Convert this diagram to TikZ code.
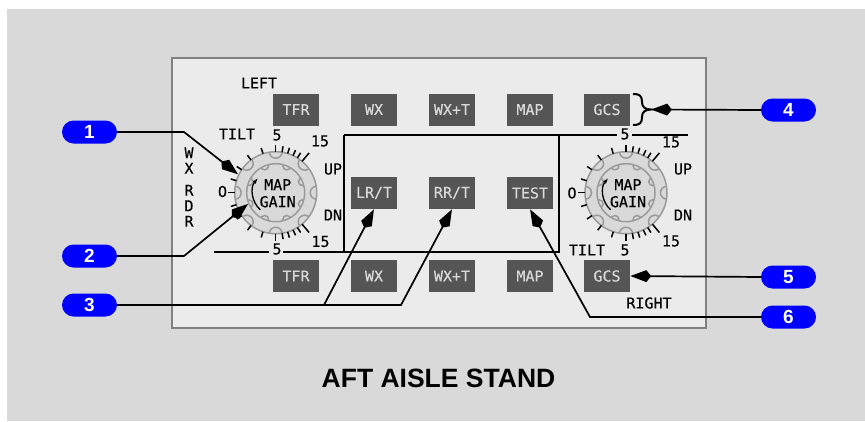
\documentclass[tikz,border=0pt]{standalone}
\usepackage{fontspec}
\setmainfont{Liberation Sans}
\setmonofont[FakeBold=0.25]{DejaVu Sans Mono}
\usepackage{xcolor}
\usetikzlibrary{arrows.meta,calc}

\definecolor{standgray}{HTML}{D9D9D9}
\definecolor{panelgray}{HTML}{EBEBEB}
\definecolor{edgegray}{HTML}{808080}
\definecolor{ringgray}{HTML}{9A9A9A}
\definecolor{btngray}{HTML}{555555}
\definecolor{callblue}{HTML}{0000FF}

% one knob: #1 = name, #2 = centre
\newcommand{\drawknob}[2]{
    \node [knobdisc, minimum size=82pt] (#1) at (#2) {};
    \node [knobdisc, minimum size=58pt] (#1inner) at (#2) {};
    \begin{scope}
        \clip (#2) circle [radius=41pt];
        \foreach \a in {0,45,...,315}
            \draw [ringline] (#2) ++(\a:41pt) circle [radius=6.5pt];
    \end{scope}
    \begin{scope}
        \clip (#2) circle [radius=29pt];
        \foreach \a in {22.5,67.5,...,360}
            \draw [ringline] (#2) ++(\a:29pt) circle [radius=4pt];
    \end{scope}
    \foreach \a in {81,73,65,58,-81,-73,-65,-58,108,127,146,163,-108,-127,-146,-163}
        \draw [tickline] (#2) ++(\a:41pt) -- ++(\a:6pt);
    \foreach \a in {90,-90,180}
        \draw [tickline] (#2) ++(\a:41pt) -- ++(\a:7pt);
    \foreach \a in {50,-50}
        \draw [tickline] (#2) ++(\a:41pt) -- ++(\a:11pt);
    \draw [-{Latex[length=6pt,width=4pt]}, line width=1.3pt] (#2) ++(228:23pt) arc [start angle=228, end angle=140, radius=23pt];
    \node [lbl] at ($(#2)+(2pt,8pt)$) {MAP};
    \node [lbl] at ($(#2)+(2pt,-9pt)$) {GAIN};
}

\begin{document}
\begin{tikzpicture}[x=1pt, y=-1pt,
    btn/.style={rectangle, fill=btngray, text=standgray, font=\fontsize{15}{15}\selectfont\ttfamily, minimum width=46pt, minimum height=32pt, inner sep=0pt},
    lbl/.style={inner sep=0pt, font=\fontsize{15}{15}\selectfont\ttfamily},
    call/.style={rectangle, rounded corners=11.5pt, fill=callblue, text=white, font=\fontsize{19}{19}\selectfont\bfseries, minimum width=55pt, minimum height=23pt, inner sep=0pt},
    knobdisc/.style={circle, draw=ringgray, fill=standgray, line width=1.5pt, inner sep=0pt},
    ringline/.style={draw=ringgray, line width=1.5pt},
    tickline/.style={draw=black, line width=1.5pt},
    busline/.style={draw=black, line width=2pt},
    line/.style={draw, line width=1.7pt, -{Stealth[length=16pt,width=11pt,inset=-5pt]}}]

    \useasboundingbox (0,0) rectangle (865,421);
    \fill [standgray] (7,9) rectangle (865,421);
    \draw [fill=panelgray, draw=edgegray, line width=1.5pt] (172,58) rectangle (706,328);

    % buttons
    \node [btn] (tfrtop) at (296,109.5) {TFR};
    \node [btn] (wxtop) at (374,109.5) {WX};
    \node [btn] (wxttop) at (452,109.5) {WX+T};
    \node [btn] (maptop) at (530,109.5) {MAP};
    \node [btn] (gcstop) at (607,109.5) {GCS};
    \node [btn] (lrt) at (374,193) {LR/T};
    \node [btn] (rrt) at (452,193) {RR/T};
    \node [btn] (test) at (530,193) {TEST};
    \node [btn] (tfrbot) at (296,276) {TFR};
    \node [btn] (wxbot) at (374,276) {WX};
    \node [btn] (wxtbot) at (452,276) {WX+T};
    \node [btn] (mapbot) at (530,276) {MAP};
    \node [btn] (gcsbot) at (607,276) {GCS};

    % frame lines, broken at the scale marks
    \node [lbl] (fivetopr) at (625,134) {5};
    \node [lbl] (fivebotl) at (277,249) {5};
    \coordinate (frametl) at (344,135);
    \coordinate (framebl) at (344,252);
    \coordinate (frametr) at (559,135);
    \coordinate (framebr) at (559,252);
    \draw [busline] (frametl) -- (617,135);
    \draw [busline] (632,135) -- (688,135);
    \draw [busline] (214,252) -- (269,252);
    \draw [busline] (283,252) -- (560,252);
    \draw [busline] (frametl) -- (framebl);
    \draw [busline] (frametr) -- (framebr);

    \drawknob{knobleft}{275.7,192.7}
    \drawknob{knobright}{626,192.7}

    % panel labels
    \node [lbl] at (259,83) {LEFT};
    \node [lbl] at (237,134) {TILT};
    \node [lbl] at (277,135) {5};
    \node [lbl] at (320,141) {15};
    \node [lbl] at (333,169) {UP};
    \node [lbl] at (333,215) {DN};
    \node [lbl] at (222.5,191.5) {O};
    \node [lbl] at (320.5,241.5) {15};
    \node [lbl, align=center] at (189,187) {W\\[0.5pt]X\\[7pt]R\\[0.5pt]D\\[0.5pt]R};
    \node [lbl] at (671,142) {15};
    \node [lbl] at (683,169) {UP};
    \node [lbl] at (683,215) {DN};
    \node [lbl] at (572,193) {O};
    \node [lbl] at (587,250) {TILT};
    \node [lbl] at (625,250) {5};
    \node [lbl] at (671,241) {15};
    \node [lbl] at (649,303) {RIGHT};
    \node [font=\fontsize{26.5}{26.5}\selectfont\bfseries, inner sep=0pt] (title) at (438.5,378) {AFT AISLE STAND};

    % callouts
    \node [call] (one) at (89.5,132) {1};
    \node [call] (two) at (89.5,256) {2};
    \node [call] (three) at (89.5,305) {3};
    \node [call] (four) at (788.5,110) {4};
    \node [call] (five) at (788.5,277) {5};
    \node [call] (six) at (788.5,317) {6};

    \coordinate (kneeone) at (184,132);
    \coordinate (kneetwo) at (184,256);
    \coordinate (kneelr) at (324,305);
    \coordinate (kneerr) at (401,305);
    \coordinate (kneesix) at (590,317);

    % brace beside the top GCS key
    \coordinate (bracetip) at (651,109.5);
    \draw [line width=2pt] (633,94) .. controls (640,94) and (642,96) .. (642,102) .. controls (642,107) and (645,109.5) .. (bracetip) .. controls (645,109.5) and (642,112) .. (642,117) .. controls (642,123) and (640,125) .. (633,125);

    \path [line] (one.east) -- (kneeone) -- (knobleft.154);
    \path [line] (two.east) -- (kneetwo) -- (knobleftinner.202);
    \path [line] (three.east) -- (kneelr) -- (lrt.south);
    \path [line] (kneelr) -- (kneerr) -- (rrt.south);
    \path [line] (four.west) -- (bracetip);
    \path [line] (five.west) -- (gcsbot.east);
    \path [line] (six.west) -- (kneesix) -- (test.south);
\end{tikzpicture}
\end{document}
